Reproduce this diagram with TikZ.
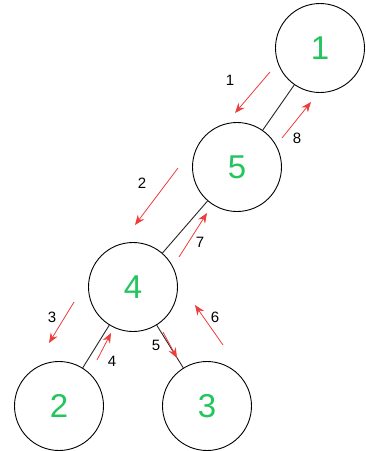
\documentclass[tikz,border=0pt]{standalone}
\usepackage{fontspec}
\setmainfont{Liberation Sans}
\usetikzlibrary{arrows.meta}
\definecolor{nodegreen}{RGB}{34,197,94}
\definecolor{arrred}{RGB}{238,60,60}
\begin{document}
\begin{tikzpicture}[x=1pt,y=-1pt,
  tnode/.style={circle,draw=black,line width=0.9pt,minimum size=89pt,inner sep=0pt,text=nodegreen,font=\fontsize{33}{33}\selectfont},
  edge/.style={draw=black!85,line width=0.9pt},
  trav/.style={draw=arrred,line width=0.8pt,-{Stealth[length=10pt,width=8pt]}},
  lbl/.style={font=\fontsize{15}{15}\selectfont,text=black,inner sep=0pt}]
\useasboundingbox (0,0) rectangle (366,451);
\node[tnode] (n1) at (320,48) {1};
\node[tnode] (n5) at (237,167) {5};
\node[tnode] (n4) at (133,287) {4};
\node[tnode] (n2) at (59,406) {2};
\node[tnode] (n3) at (207,406) {3};
\draw[edge] (n5) -- (n1);
\draw[edge] (n4) -- (n5);
\draw[edge] (n2) -- (n4);
\draw[edge] (n3) -- (n4);
% traversal arrows
\coordinate (a1s) at (270,72);  \coordinate (a1e) at (235,113);
\coordinate (a8s) at (282,138); \coordinate (a8e) at (311,102);
\coordinate (a2s) at (178,168); \coordinate (a2e) at (135,225);
\coordinate (a7s) at (179,257); \coordinate (a7e) at (207,213);
\coordinate (a3s) at (74,302);  \coordinate (a3e) at (49,343);
\coordinate (a4s) at (97,360);  \coordinate (a4e) at (111,333);
\coordinate (a5s) at (163,332); \coordinate (a5e) at (177,358);
\coordinate (a6s) at (223,345); \coordinate (a6e) at (195,305);
\draw[trav] (a1s) -- (a1e);
\draw[trav] (a8s) -- (a8e);
\draw[trav] (a2s) -- (a2e);
\draw[trav] (a7s) -- (a7e);
\draw[trav] (a3s) -- (a3e);
\draw[trav] (a4s) -- (a4e);
\draw[trav] (a5s) -- (a5e);
\draw[trav] (a6s) -- (a6e);
\node[lbl] (l1) at (230,80) {1};
\node[lbl] (l8) at (297,138) {8};
\node[lbl] (l2) at (142,183) {2};
\node[lbl] (l7) at (200,242) {7};
\node[lbl] (l3) at (52,317) {3};
\node[lbl] (l4) at (112,361) {4};
\node[lbl] (l5) at (156,345) {5};
\node[lbl] (l6) at (215,317) {6};
\end{tikzpicture}
\end{document}
